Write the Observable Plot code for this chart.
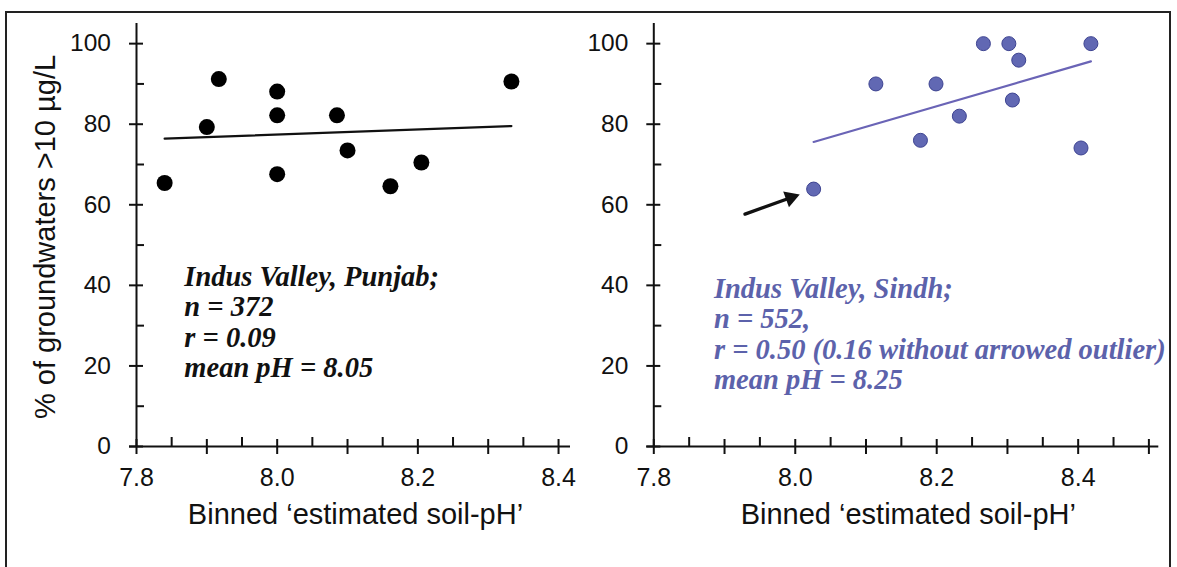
<!DOCTYPE html>
<html>
<head>
<meta charset="utf-8">
<script src="https://cdn.jsdelivr.net/npm/d3@7"></script>
<script src="https://cdn.jsdelivr.net/npm/@observablehq/plot@0.6"></script>
<style>
  html, body { margin: 0; padding: 0; background: #fff; }
  #wrap { position: relative; width: 1177px; height: 567px; overflow: hidden; background: #fff; }
  #frame { position: absolute; left: 5px; top: 11px; width: 1166px; height: 620px; border: 2px solid #222; box-sizing: border-box; }
  #left { position: absolute; left: 0; top: 0; }
  #right { position: absolute; left: 590px; top: 0; }
</style>
</head>
<body>
<div id="wrap"><div id="frame"></div><div id="left"></div><div id="right"></div></div>
<script>
// ---- data ----
const punjabPH  = [7.84, 7.90, 7.917, 8.00, 8.00, 8.00, 8.085, 8.10, 8.161, 8.205, 8.333];
const punjabPct = [65.4, 79.3, 91.2, 88.1, 82.2, 67.6, 82.2, 73.5, 64.6, 70.5, 90.6];
const sindhPH   = [8.026, 8.114, 8.177, 8.199, 8.232, 8.266, 8.302, 8.316, 8.307, 8.404, 8.418];
const sindhPct  = [63.9, 90.0, 76.0, 90.0, 82.0, 100, 100, 95.9, 86.0, 74.1, 100];

const yTicks = [0, 20, 40, 60, 80, 100];
const yMinorTicks = [10, 30, 50, 70, 90];
const xTickLabels = [7.8, 8.0, 8.2, 8.4];
const punjabXTicks = [7.8, 7.9, 8.0, 8.1, 8.2, 8.3, 8.4];
const punjabXMinor = [7.85, 7.95, 8.05, 8.15, 8.25, 8.35];
const sindhXTicks = [7.8, 7.9, 8.0, 8.1, 8.2, 8.3, 8.4, 8.5];
const sindhXMinor = [7.85, 7.95, 8.05, 8.15, 8.25, 8.35, 8.45];

const xTitle = "Binned \u2018estimated soil-pH\u2019";
const yTitle = "% of groundwaters >10 \u00b5g/L";
const punjabNote = ["Indus Valley, Punjab;", "n = 372", "r = 0.09", "mean pH = 8.05"];
const sindhNote = ["Indus Valley, Sindh;", "n = 552,", "r = 0.50 (0.16 without arrowed outlier)", "mean pH = 8.25"];
const arrowStart = [7.929, 57.7];
const arrowEnd = [8.010, 62.8];

// ---- drawing ----
const H = 567, mTop = 23, mBottom = 121, yDomain = [0, 105];
const ky = (H - mTop - mBottom) / (yDomain[1] - yDomain[0]);

function panel(o) {
  const kx = (o.width - o.marginLeft - o.marginRight) / (o.xDomain[1] - o.xDomain[0]);
  const x0 = o.xDomain[0];
  const pts = o.px.map((x, i) => ({x, y: o.py[i]}));
  const marks = [
    // axis lines
    Plot.ruleY([0], {x1: x0 - 7 / kx, x2: o.xDomain[1], stroke: "#111", strokeWidth: 2}),
    Plot.ruleX([x0], {y1: 0, y2: yDomain[1], stroke: "#111", strokeWidth: 2}),
    // x ticks
    Plot.ruleX(o.majorX, {x: d => d, y1: -8 / ky, y2: 7 / ky, stroke: "#111", strokeWidth: 2}),
    Plot.ruleX(o.minorX, {x: d => d, y1: 0, y2: 9 / ky, stroke: "#111", strokeWidth: 2}),
    // y ticks
    Plot.ruleY(yTicks, {y: d => d, x1: x0 - 7 / kx, x2: x0 + 7 / kx, stroke: "#111", strokeWidth: 2}),
    Plot.ruleY(yMinorTicks, {y: d => d, x1: x0, x2: x0 + 8 / kx, stroke: "#111", strokeWidth: 2}),
    // tick labels
    Plot.text(xTickLabels, {x: d => d, y: 0, text: d => d.toFixed(1), lineAnchor: "bottom", dy: 39, fontSize: 25, fill: "#111"}),
    Plot.text(yTicks, {x: x0, y: d => d, text: d => String(d), textAnchor: "end", dx: -25.5, fontSize: 24.5, fill: "#111"}),
    // axis title
    Plot.text([xTitle], {frameAnchor: "bottom", text: d => d, textAnchor: "middle", lineAnchor: "bottom", dy: 77, dx: 2, fontSize: 29, fill: "#111"}),
    // regression line + points
    Plot.linearRegressionY(pts, {x: "x", y: "y", ci: 0, stroke: o.lineColor, strokeWidth: 2.2}),
    Plot.dot(pts, {x: "x", y: "y", r: o.dotR, fill: o.dotFill, stroke: o.dotStroke, strokeWidth: o.dotStroke === "none" ? 0 : 1}),
    // annotation
    Plot.text([o.note.join("\n")], {x: o.noteX, y: o.noteY, text: d => d, textAnchor: "start", lineAnchor: "bottom",
      lineHeight: 30.5 / 28.5, fontSize: 28.5, fontStyle: "italic", fontWeight: "bold",
      fontFamily: "Liberation Serif, Times New Roman, serif", fill: o.noteColor})
  ];
  if (o.yTitle) {
    marks.push(Plot.text([o.yTitle], {frameAnchor: "left", text: d => d, textAnchor: "middle", rotate: -90, lineAnchor: "bottom", dx: -82, dy: 2, fontSize: 29, fill: "#111"}));
  }
  if (o.arrow) {
    const a = [{x1: o.arrow[0][0], y1: o.arrow[0][1], x2: o.arrow[1][0], y2: o.arrow[1][1]}];
    marks.push(Plot.arrow(a, {x1: "x1", y1: "y1", x2: "x2", y2: "y2", insetEnd: 14, headLength: 0, stroke: "#111", strokeWidth: 3.4}));
    marks.push(Plot.dot(a, {x: "x2", y: "y2", symbol: "triangle2", r: 8, fill: "#111", rotate: 70, dx: -11.7, dy: 4.2}));
  }
  return Plot.plot({
    width: o.width, height: H,
    marginLeft: o.marginLeft, marginRight: o.marginRight, marginTop: mTop, marginBottom: mBottom,
    x: {domain: o.xDomain, axis: null},
    y: {domain: yDomain, axis: null},
    style: {fontFamily: "Liberation Sans, Arial, sans-serif", background: "transparent", overflow: "visible"},
    marks
  });
}

document.getElementById("left").append(panel({
  width: 590, marginLeft: 136, marginRight: 20, xDomain: [7.8, 8.417],
  majorX: punjabXTicks, minorX: punjabXMinor,
  px: punjabPH, py: punjabPct, dotR: 8, dotFill: "#000", dotStroke: "none", lineColor: "#111",
  note: punjabNote, noteX: 7.868, noteY: 17.13, noteColor: "#111", yTitle: yTitle
}));

document.getElementById("right").append(panel({
  width: 587, marginLeft: 63.3, marginRight: 18.7, xDomain: [7.8, 8.514],
  majorX: sindhXTicks, minorX: sindhXMinor,
  px: sindhPH, py: sindhPct, dotR: 7, dotFill: "#6168b3", dotStroke: "#3d4391", lineColor: "#6a64b6",
  note: sindhNote, noteX: 7.885, noteY: 14.27, noteColor: "#5c62ab", arrow: [arrowStart, arrowEnd]
}));
</script>
</body>
</html>
